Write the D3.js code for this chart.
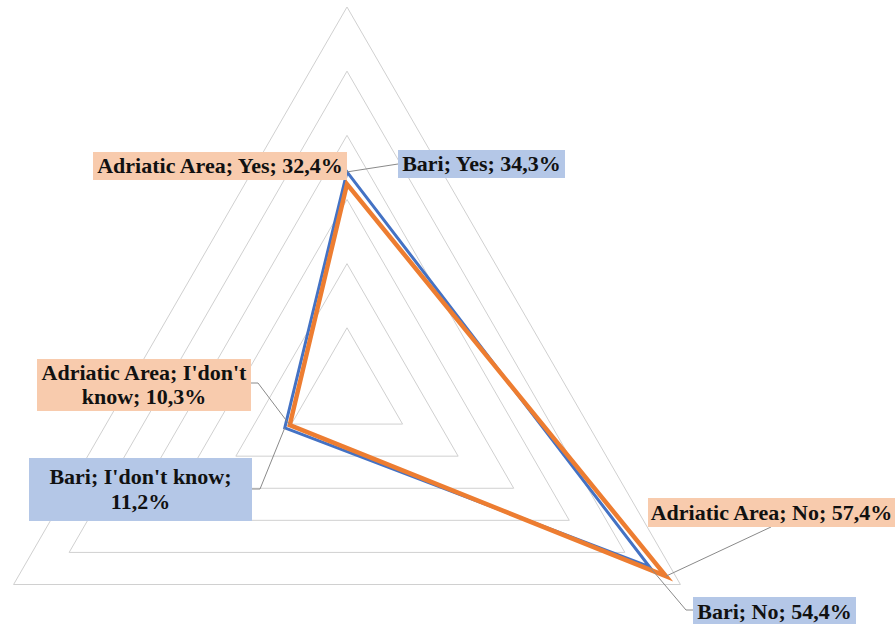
<!DOCTYPE html>
<html>
<head>
<meta charset="utf-8">
<script src="https://cdn.jsdelivr.net/npm/d3@7"></script>
<style>
  html, body { margin: 0; padding: 0; background: #fff; }
  svg { display: block; }
</style>
</head>
<body>
<svg id="chart" width="896" height="624"></svg>
<script>
// Answer categories, clockwise from the top
const categories = ["Yes", "No", "I'don't know"];
// Share of answers (%) per area
const bariValues = [34.3, 54.4, 11.2];
const adriaticValues = [32.4, 57.4, 10.3];
// Radial grid levels (%)
const gridLevels = [10, 20, 30, 40, 50, 60];

const series = [
  { name: "Bari", values: bariValues, color: "#4472C4", width: 3, fill: "#B4C7E7" },
  { name: "Adriatic Area", values: adriaticValues, color: "#ED7D31", width: 4.5, fill: "#F8CBAD" }
];

// Data label boxes and leader routes (layout only)
const labelLayout = {
  "Adriatic Area|Yes":        { box: [93, 152, 254, 28],  leader: null },
  "Bari|Yes":                 { box: [398, 150, 167, 28], leader: [[398, 164]] },
  "Adriatic Area|I'don't know": { box: [37, 359, 214, 52], leader: [[258, 383], [251, 383]], wrap: true },
  "Bari|I'don't know":        { box: [29, 458, 223, 63],  leader: [[260, 489], [252, 489]], wrap: true },
  "Adriatic Area|No":         { box: [648, 498, 247, 29], leader: [[771, 527]] },
  "Bari|No":                  { box: [693, 597, 163, 30], leader: [[686, 610], [693, 610]] }
};

const svg = d3.select("#chart");
const cx = 347, cy = 392, R = 385;

const r = d3.scaleLinear().domain([0, 60]).range([0, R]);
const angle = d3.scalePoint().domain(categories).range([0, 2 * Math.PI * (categories.length - 1) / categories.length]);

function pt(cat, v) {
  const a = angle(cat) - Math.PI / 2;
  return [cx + r(v) * Math.cos(a), cy + r(v) * Math.sin(a)];
}

// Grid rings
const ring = d3.line().curve(d3.curveLinearClosed);
svg.append("g").selectAll("path")
  .data(gridLevels)
  .join("path")
  .attr("d", lv => ring(categories.map(c => pt(c, lv))))
  .attr("fill", "none")
  .attr("stroke", "#d0d0d0")
  .attr("stroke-width", 1);

// Series outlines
svg.append("g").selectAll("path")
  .data(series)
  .join("path")
  .attr("d", s => ring(categories.map((c, i) => pt(c, s.values[i]))))
  .attr("fill", "none")
  .attr("stroke", s => s.color)
  .attr("stroke-width", s => s.width)
  .attr("stroke-linejoin", "miter");

// Data labels
const fmt = v => d3.format(".1f")(v).replace(".", ",") + "%";
const labels = [];
series.forEach(s => categories.forEach((c, i) => {
  labels.push({ series: s, cat: c, value: s.values[i],
    text: `${s.name}; ${c}; ${fmt(s.values[i])}`,
    layout: labelLayout[`${s.name}|${c}`] });
}));

const leaderG = svg.append("g");
const labelG = svg.append("g");

labels.forEach(d => {
  const L = d.layout;
  const [bx, by, bw, bh] = L.box;
  if (L.leader) {
    const pts = [pt(d.cat, d.value), ...L.leader];
    leaderG.append("path")
      .attr("d", d3.line()(pts))
      .attr("fill", "none")
      .attr("stroke", "#8a8a8a")
      .attr("stroke-width", 1);
  }
  const g = labelG.append("g");
  g.append("rect")
    .attr("x", bx).attr("y", by).attr("width", bw).attr("height", bh)
    .attr("fill", d.series.fill);
  const t = g.append("text")
    .attr("font-family", "'Liberation Serif', 'Times New Roman', serif")
    .attr("font-weight", "bold")
    .attr("font-size", 22)
    .attr("fill", "#111")
    .attr("text-anchor", "middle");
  // word wrap to the box width
  const words = d.text.split(" ");
  const lines = [];
  let cur = "";
  const probe = t.append("tspan");
  words.forEach(w => {
    const test = cur ? cur + " " + w : w;
    probe.text(test);
    if (L.wrap && probe.node().getComputedTextLength() > bw - 6 && cur) {
      lines.push(cur); cur = w;
    } else cur = test;
  });
  lines.push(cur);
  probe.remove();
  const lh = 24.5;
  const firstBase = by + bh / 2 - (lines.length - 1) * lh / 2 + 7;
  lines.forEach((ln, i) => {
    t.append("tspan").attr("x", bx + bw / 2).attr("y", firstBase + i * lh).text(ln);
  });
});
</script>
</body>
</html>
